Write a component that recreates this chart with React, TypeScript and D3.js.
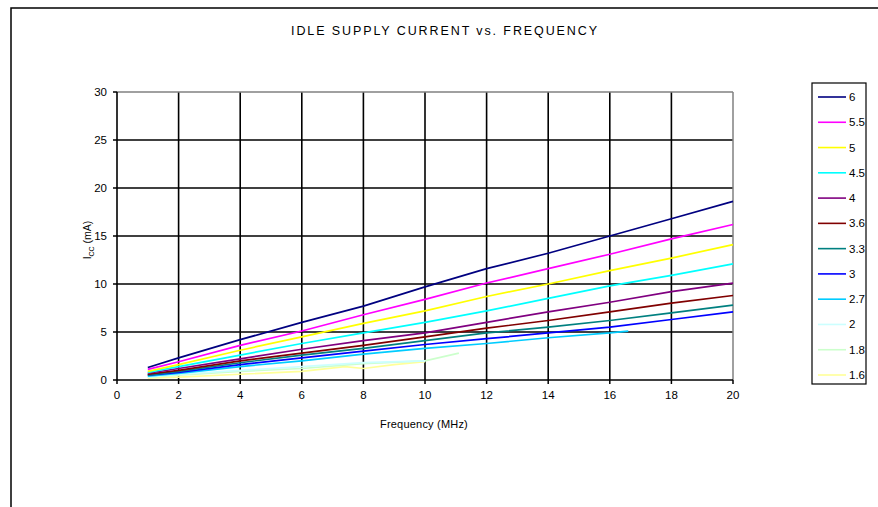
import * as d3 from 'd3'

const TITLE = 'IDLE SUPPLY CURRENT vs. FREQUENCY'
const X_TICKS = [0, 2, 4, 6, 8, 10, 12, 14, 16, 18, 20]
const Y_TICKS = [0, 5, 10, 15, 20, 25, 30]

const FREQ = [1, 2, 4, 6, 8, 10, 12, 14, 16, 18, 20]

const S6 = [1.3, 2.3, 4.2, 6.0, 7.7, 9.7, 11.6, 13.2, 15.0, 16.8, 18.6]
const S55 = [1.1, 1.9, 3.6, 5.1, 6.8, 8.4, 10.1, 11.6, 13.1, 14.7, 16.2]
const S5 = [0.9, 1.6, 3.1, 4.5, 5.9, 7.2, 8.7, 10.0, 11.4, 12.7, 14.1]
const S45 = [0.8, 1.4, 2.6, 3.8, 4.9, 6.0, 7.2, 8.5, 9.8, 10.9, 12.1]
const S4 = [0.7, 1.2, 2.2, 3.2, 4.1, 4.9, 6.0, 7.1, 8.1, 9.2, 10.1]
const S36 = [0.6, 1.0, 2.0, 2.8, 3.6, 4.5, 5.4, 6.2, 7.1, 8.0, 8.8]
const S33 = [0.5, 0.9, 1.8, 2.6, 3.3, 4.1, 4.9, 5.5, 6.2, 7.0, 7.8]
const S3 = [0.5, 0.8, 1.6, 2.3, 3.0, 3.7, 4.3, 4.9, 5.5, 6.3, 7.1]

const FREQ_27 = [1, 2, 4, 6, 8, 10, 12, 14, 16, 16.6]
const S27 = [0.4, 0.7, 1.4, 2.0, 2.7, 3.3, 3.8, 4.4, 4.9, 5.1]

const FREQ_20 = [1, 2, 4, 6, 8, 10]
const S20 = [0.3, 0.6, 1.0, 1.4, 1.8, 2.0]
const FREQ_18 = [1, 2, 4, 6, 8, 10, 11.1]
const S18 = [0.3, 0.5, 0.9, 1.2, 1.7, 2.0, 2.8]
const FREQ_16 = [1, 2, 4, 6, 7.4, 8, 9, 10]
const S16 = [0.2, 0.3, 0.6, 0.9, 1.4, 1.2, 1.6, 1.9]

const LABELS = ['6', '5.5', '5', '4.5', '4', '3.6', '3.3', '3', '2.7', '2', '1.8', '1.6']
const COLORS = [
  '#000080',
  '#ff00ff',
  '#ffff00',
  '#00ffff',
  '#800080',
  '#800000',
  '#008080',
  '#0000ff',
  '#00ccff',
  '#ccffff',
  '#ccffcc',
  '#ffff99',
]

const SERIES: { x: number[]; y: number[] }[] = [
  { x: FREQ, y: S6 },
  { x: FREQ, y: S55 },
  { x: FREQ, y: S5 },
  { x: FREQ, y: S45 },
  { x: FREQ, y: S4 },
  { x: FREQ, y: S36 },
  { x: FREQ, y: S33 },
  { x: FREQ, y: S3 },
  { x: FREQ_27, y: S27 },
  { x: FREQ_20, y: S20 },
  { x: FREQ_18, y: S18 },
  { x: FREQ_16, y: S16 },
]

const FONT = '"Liberation Sans", Arial, sans-serif'

export default function App() {
  const width = 878
  const height = 507
  const plot = { left: 117, right: 733, top: 92, bottom: 380 }

  const x = d3.scaleLinear().domain([0, 20]).range([plot.left, plot.right])
  const y = d3.scaleLinear().domain([0, 30]).range([plot.bottom, plot.top])

  const line = d3
    .line<[number, number]>()
    .x((d) => x(d[0]))
    .y((d) => y(d[1]))

  const legendY = d3
    .scalePoint<string>()
    .domain(LABELS)
    .range([97, 375])

  // paint the faint low-voltage curves first, the 6 V one on top
  const drawOrder = SERIES.map((_, i) => i).reverse()

  return (
    <svg
      width={width}
      height={height}
      style={{ position: 'absolute', left: 0, top: 0, background: '#fff' }}
      fontFamily={FONT}
    >
      <rect x={11} y={8} width={900} height={520} fill="#fff" stroke="#000" strokeWidth={1.5} />

      <text x={445} y={35} textAnchor="middle" fontSize={12.5} letterSpacing={1.9} fill="#000">
        {TITLE}
      </text>

      {/* grid */}
      {Y_TICKS.filter((t) => t > 0 && t < 30).map((t) => (
        <line key={`gy${t}`} x1={plot.left} x2={plot.right} y1={y(t)} y2={y(t)} stroke="#000" strokeWidth={1.6} />
      ))}
      {X_TICKS.filter((t) => t > 0 && t < 20).map((t) => (
        <line key={`gx${t}`} x1={x(t)} x2={x(t)} y1={plot.top} y2={plot.bottom} stroke="#000" strokeWidth={1.6} />
      ))}
      <line x1={plot.left} x2={plot.right} y1={plot.top} y2={plot.top} stroke="#808080" strokeWidth={1.5} />
      <line x1={plot.right} x2={plot.right} y1={plot.top} y2={plot.bottom} stroke="#808080" strokeWidth={1.5} />

      {/* series */}
      {drawOrder.map((i) => (
        <path
          key={LABELS[i]}
          d={line(SERIES[i].x.map((v, j) => [v, SERIES[i].y[j]] as [number, number])) || ''}
          fill="none"
          stroke={COLORS[i]}
          strokeWidth={1.7}
        />
      ))}

      {/* axes */}
      <line x1={plot.left} x2={plot.left} y1={plot.top} y2={plot.bottom} stroke="#000" strokeWidth={1.6} />
      <line x1={plot.left} x2={plot.right} y1={plot.bottom} y2={plot.bottom} stroke="#000" strokeWidth={1.6} />
      {Y_TICKS.map((t) => (
        <g key={`ty${t}`}>
          <line x1={plot.left - 4} x2={plot.left} y1={y(t)} y2={y(t)} stroke="#000" strokeWidth={1.5} />
          <text x={plot.left - 10} y={y(t) + 4} textAnchor="end" fontSize={11.5} fill="#000">
            {t}
          </text>
        </g>
      ))}
      {X_TICKS.map((t) => (
        <g key={`tx${t}`}>
          <line x1={x(t)} x2={x(t)} y1={plot.bottom} y2={plot.bottom + 4} stroke="#000" strokeWidth={1.5} />
          <text x={x(t)} y={plot.bottom + 19} textAnchor="middle" fontSize={11.5} fill="#000">
            {t}
          </text>
        </g>
      ))}

      <text x={424} y={428} textAnchor="middle" fontSize={11} letterSpacing={0.2} fill="#000">
        Frequency (MHz)
      </text>
      <text transform={`translate(91, ${240}) rotate(-90)`} textAnchor="middle" fontSize={10.5} fill="#000">
        I
        <tspan fontSize={7} dy={3}>CC</tspan>
        <tspan dy={-3}> (mA)</tspan>
      </text>

      {/* legend */}
      <rect x={812} y={83} width={54} height={301} fill="#fff" stroke="#000" strokeWidth={1.2} />
      {LABELS.map((label, i) => (
        <g key={`lg${label}`}>
          <line
            x1={818}
            x2={846}
            y1={legendY(label)!}
            y2={legendY(label)!}
            stroke={COLORS[i]}
            strokeWidth={1.6}
          />
          <text x={849} y={legendY(label)! + 4} fontSize={11.5} fill="#000">
            {label}
          </text>
        </g>
      ))}
    </svg>
  )
}
